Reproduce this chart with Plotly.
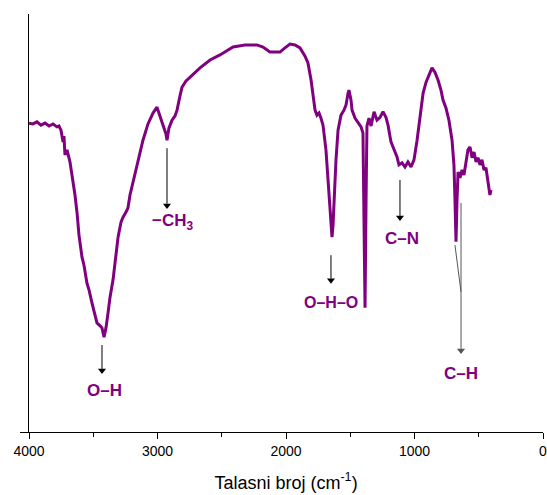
import plotly.graph_objects as go

# IR spectrum: wavenumber (cm^-1) and transmittance (arb. units)
wavenumber = [4000, 3969, 3938, 3907, 3875, 3844, 3813, 3782, 3767, 3751, 3735, 3728, 3720, 3704,
              3681, 3658, 3642, 3626, 3611, 3588, 3572, 3549, 3533, 3510, 3486, 3471, 3447, 3432,
              3416, 3401, 3385, 3370, 3346, 3323, 3307, 3284, 3268, 3245, 3230, 3214, 3191, 3152,
              3113, 3074, 3035, 3004, 2981, 2957, 2934, 2926, 2911, 2887, 2864, 2848, 2825, 2809,
              2778, 2747, 2669, 2591, 2514, 2412, 2319, 2226, 2179, 2125, 2047, 2008, 1969, 1930,
              1891, 1852, 1829, 1805, 1790, 1774, 1759, 1743, 1728, 1712, 1689, 1673, 1658, 1650,
              1642, 1634, 1626, 1611, 1595, 1572, 1549, 1533, 1517, 1510, 1494, 1486, 1463, 1440,
              1416, 1401, 1393, 1385, 1377, 1370, 1354, 1338, 1315, 1292, 1268, 1245, 1222, 1206,
              1183, 1160, 1136, 1121, 1097, 1074, 1051, 1027, 1004, 980, 957, 933, 910, 887, 864,
              841, 817, 794, 778, 755, 732, 708, 693, 685, 677, 669, 661, 646, 630, 615, 599, 584,
              568, 552, 537, 521, 506, 490, 475, 459, 444, 428, 413, 405]
transmittance = [73.9, 73.7, 74.2, 73.4, 73.9, 73.2, 73.7, 73.0, 73.2, 72.2, 69.4, 70.8, 66.3, 67.5,
                 64.6, 60.3, 56.7, 52.4, 47.1, 41.9, 39.9, 35.6, 34.0, 30.9, 28.0, 26.1, 25.4, 24.9,
                 22.7, 24.9, 28.5, 32.1, 36.4, 42.3, 46.6, 50.2, 51.4, 52.6, 53.6, 56.7, 59.6, 65.1,
                 69.8, 73.7, 76.3, 77.7, 75.8, 73.4, 71.3, 69.8, 72.7, 74.6, 75.6, 77.0, 80.4, 82.5,
                 84.0, 84.9, 87.1, 89.0, 90.2, 92.1, 92.6, 92.6, 92.1, 90.9, 90.9, 91.9, 92.8, 92.6,
                 91.9, 89.9, 88.3, 84.2, 80.1, 77.0, 75.8, 76.3, 75.1, 73.4, 67.5, 60.3, 53.1, 48.8,
                 46.6, 49.5, 55.5, 65.1, 72.2, 75.8, 77.0, 78.2, 81.1, 81.8, 79.4, 77.0, 75.1, 74.2,
                 73.0, 71.5, 55.5, 29.7, 55.5, 73.2, 75.1, 73.2, 76.6, 74.6, 75.3, 76.6, 75.3, 73.4,
                 69.4, 67.5, 65.8, 63.9, 64.4, 63.4, 64.6, 63.4, 65.1, 69.8, 75.8, 81.1, 83.7, 85.4, 87.1,
                 86.1, 84.2, 81.8, 79.4, 77.5, 74.6, 69.8, 63.9, 55.5, 45.5, 55.5, 62.2, 60.8, 62.7, 61.5,
                 65.1, 67.5, 68.2, 65.6, 67.0, 64.6, 65.6, 63.9, 65.1, 62.7, 63.2, 60.3, 56.7, 57.9]

# Band labels: text, label position, arrow x, arrow tail / tip, arrow colour
labels = ["\u2212CH<sub>3</sub>", "O\u2013H", "O\u2013H\u2013O", "C\u2013N", "C\u2013H"]
label_x = [2883, 3409, 1650, 1097, 638]
label_y = [50.2, 10.0, 30.9, 46.4, 14.1]
label_size = [17, 17, 16, 17, 17]
arrow_x = [2926, 3432, 1650, 1113, 638]
arrow_tail_y = [67.9, 20.8, 42.3, 60.3, 54.8]
arrow_tip_y = [53.1, 13.6, 35.2, 50.2, 18.4]
arrow_color = ["#000000", "#000000", "#000000", "#000000", "#555555"]
# extra converging guide line for the C-H band
guide_x = [685, 638]
guide_y = [44.7, 33.5]

purple = "#800080"

fig = go.Figure()
fig.add_trace(go.Scatter(x=wavenumber, y=transmittance, mode="lines",
                         line=dict(color=purple, width=3), showlegend=False, hoverinfo="skip"))

shapes = []
for i in range(len(labels)):
    shapes.append(dict(type="line", xref="x", yref="y", x0=arrow_x[i], x1=arrow_x[i],
                       y0=arrow_tail_y[i], y1=arrow_tip_y[i] + 1.5,
                       line=dict(color=arrow_color[i], width=1)))
shapes.append(dict(type="line", xref="x", yref="y", x0=guide_x[0], y0=guide_y[0],
                   x1=guide_x[1], y1=guide_y[1], line=dict(color="#555555", width=1)))

# arrow heads
fig.add_trace(go.Scatter(x=arrow_x, y=[v + 1.1 for v in arrow_tip_y], mode="markers",
                         marker=dict(symbol="triangle-down", size=7, color=arrow_color,
                                     line=dict(width=0)),
                         showlegend=False, hoverinfo="skip"))

annotations = []
for i in range(len(labels)):
    annotations.append(dict(x=label_x[i], y=label_y[i], xref="x", yref="y", text="<b>%s</b>" % labels[i],
                            showarrow=False,
                            font=dict(family="Liberation Sans, Arial", size=label_size[i], color=purple),
                            xanchor="center", yanchor="middle"))

fig.update_layout(
    width=547, height=495,
    margin=dict(l=29, r=4, t=14, b=63, autoexpand=False),
    paper_bgcolor="white", plot_bgcolor="white",
    annotations=annotations,
    shapes=shapes,
    xaxis=dict(range=[4000, 0], tickvals=[4000, 3000, 2000, 1000, 0],
               ticktext=["4000", "3000", "2000", "1000", "0"],
               ticks="outside", ticklen=6, tickwidth=1, tickcolor="black",
               ticklabeloverflow="allow", automargin=False,
               minor=dict(tickvals=[3500, 2500, 1500, 500], ticks="outside", ticklen=4, tickcolor="black"),
               showline=True, linecolor="black", linewidth=1, showgrid=False, zeroline=False,
               tickfont=dict(family="Liberation Sans, Arial", size=14, color="black"),
               title=dict(text="Talasni broj (cm<sup>-1</sup>)", standoff=18,
                          font=dict(family="Liberation Sans, Arial", size=18, color="black"))),
    yaxis=dict(range=[0, 100], tickvals=[0], showticklabels=False, ticks="outside", ticklen=8,
               tickcolor="black", showline=True, linecolor="black", linewidth=1,
               showgrid=False, zeroline=False, automargin=False),
)

fig.write_html("out.html")
